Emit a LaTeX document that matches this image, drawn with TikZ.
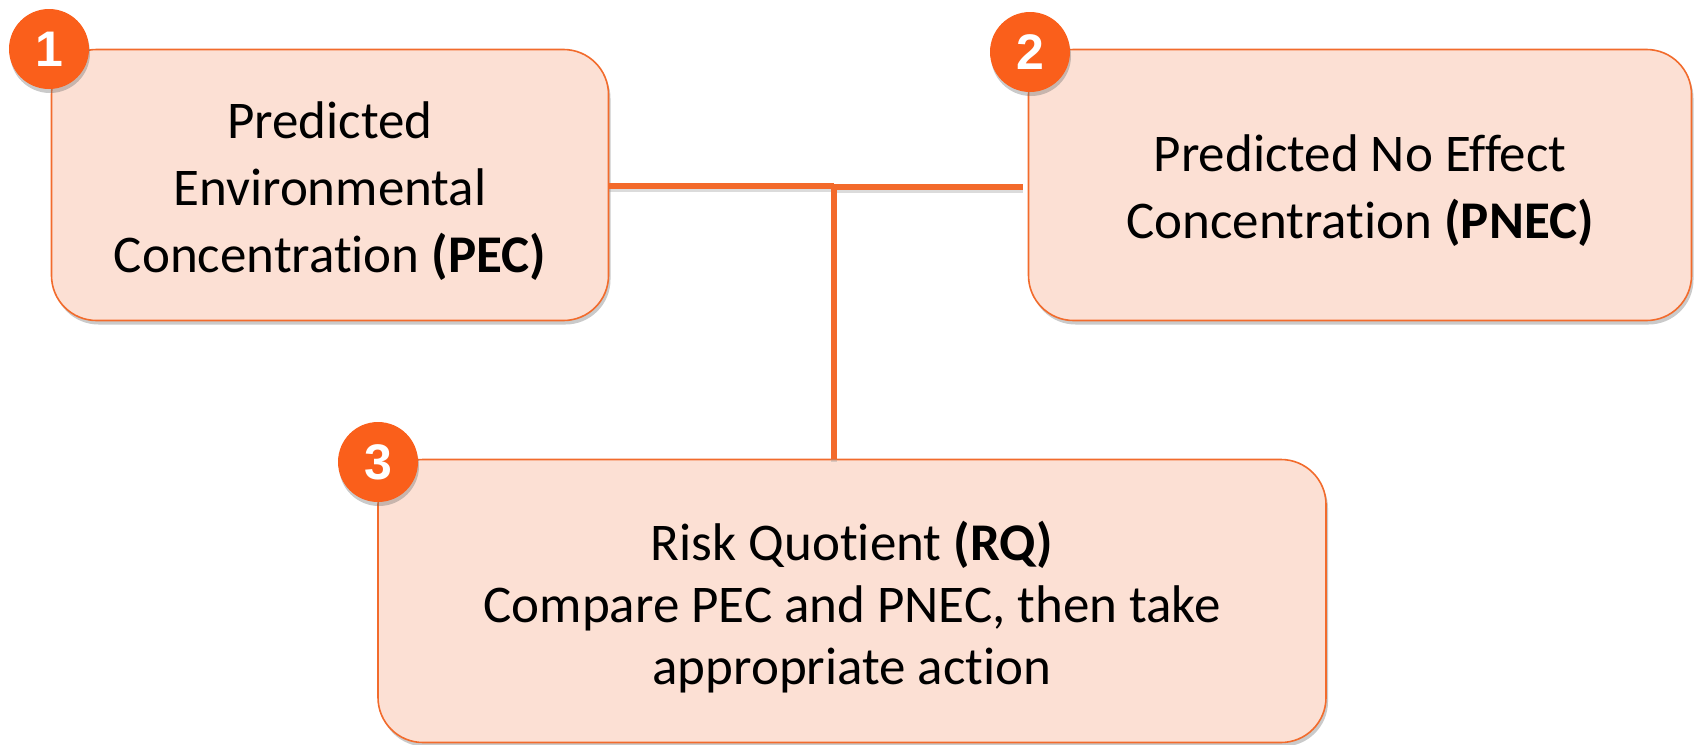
\documentclass[tikz,border=0pt]{standalone}
\usepackage{fontspec}
\setmainfont[Ligatures=NoCommon]{Carlito}
\newfontfamily\badgefont{Liberation Sans}
\usetikzlibrary{shadows}
\definecolor{boxfill}{HTML}{FCE0D4}
\definecolor{boxline}{HTML}{F26B2C}
\definecolor{badgefill}{HTML}{FA5F1B}
\definecolor{linkcol}{HTML}{F36A2B}
\tikzset{
  card/.style={draw=boxline, line width=1.6pt, fill=boxfill, rounded corners=45pt,
    inner sep=0pt,
    drop shadow={opacity=0.35, shadow xshift=2pt, shadow yshift=-4pt, fill=black!60}},
  cardtext/.style={align=center, inner sep=0pt, font=\fontsize{53}{67}\selectfont},
  badge/.style={circle, fill=badgefill, minimum size=80pt, inner sep=0pt,
    text=white, font=\badgefont\bfseries\fontsize{50}{50}\selectfont,
    drop shadow={opacity=0.35, shadow xshift=1pt, shadow yshift=-4pt, fill=black!60}},
  link/.style={draw=linkcol, line width=6pt,
    preaction={draw=black!40, opacity=0.35, line width=6pt, transform canvas={yshift=-3pt}}}
}
\begin{document}
\begin{tikzpicture}[x=1pt,y=-1pt]
\useasboundingbox (0,0) rectangle (1694,744);
\node[card, minimum width=557pt, minimum height=271pt] (pec) at (330,185) {};
\node[cardtext] (pect) at ([yshift=-6pt]pec.center)
  {Predicted\\Environmental\\Concentration \textbf{(PEC)}};
\node[card, minimum width=663pt, minimum height=271pt] (pnec) at (1360,185) {};
\node[cardtext] (pnect) at ([yshift=-6pt]pnec.center)
  {Predicted No Effect\\Concentration \textbf{(PNEC)}};
\node[card, minimum width=948pt, minimum height=283pt] (rq) at (852,601) {};
\node[cardtext, font=\fontsize{53}{62}\selectfont] (rqt) at ([yshift=-6pt]rq.center)
  {Risk Quotient \textbf{(RQ)}\\Compare PEC and PNEC, then take\\appropriate action};
\coordinate (j) at (834,186);
\coordinate (r) at (1023,187);
\draw[link] (pec.east |- j) -- (j);
\draw[link] (j |- r) -- (r);
\draw[link] (j) -- (j |- rq.north);
\node[badge] (b1) at (49,49) {1};
\node[badge] (b2) at (1030,52) {2};
\node[badge] (b3) at (378,462) {3};
\end{tikzpicture}
\end{document}
